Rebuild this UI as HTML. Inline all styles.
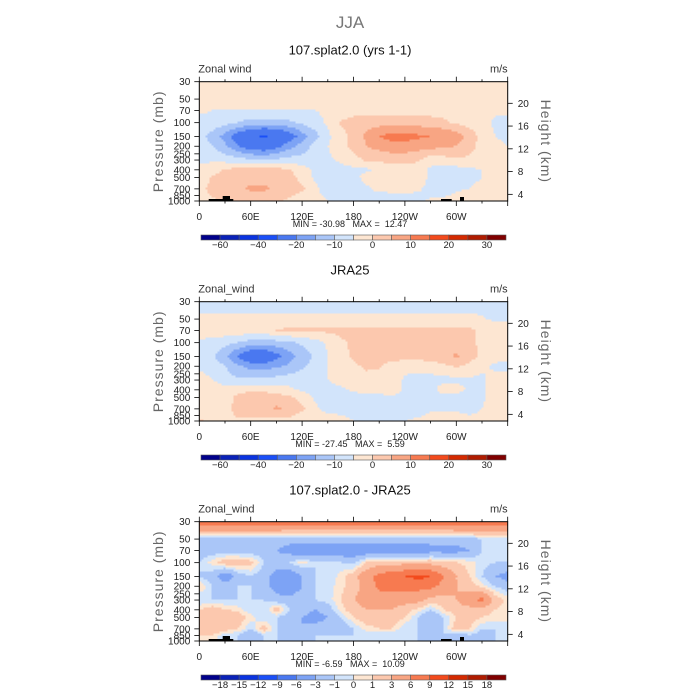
<!DOCTYPE html>
<html><head><meta charset="utf-8">
<style>
html,body{margin:0;padding:0;background:#fff;}
svg{display:block;font-family:"Liberation Sans",sans-serif;}
text{white-space:pre;}
</style></head>
<body>
<svg id="fig" width="700" height="700" viewBox="0 0 700 700">
<text x="350" y="28" text-anchor="middle" font-size="17" fill="#777">JJA</text>
</svg>
<script>
// ---- data ----
const lons = [0,15,30,45,60,75,90,105,120,135,150,165,180,195,210,225,240,255,270,285,300,315,330,345,360];
const plevs = [30,50,70,100,150,200,300,400,500,700,850,1000];
const xTickLabels = ["0","60E","120E","180","120W","60W"];
const xTickLons = [0,60,120,180,240,300];
const pTicks = [30,50,70,100,150,200,250,300,400,500,700,850,1000];
const hTicks = [4,8,12,16,20];
const levelsAbs = [-60,-50,-40,-30,-20,-15,-10,-5,0,5,10,15,20,25,30];
const levelsDiff = [-18,-15,-12,-9,-6,-3,-1,0,1,3,6,9,12,15,18];
const labelsAbs = ["-60","-40","-20","-10","0","10","20","30"];
const labelsDiff = ["-18","-15","-12","-9","-6","-3","-1","0","1","3","6","9","12","15","18"];
const palette = ["#00008b","#0a22b8","#0a33e0","#1a4ff8","#4a78f0","#7da3f5","#aac6f8","#d2e4fb","#fde6d2","#fcc8ae","#f8a583","#f77a50","#f34a1c","#d42a00","#b01c00","#800000"];

const fieldModel = [
"-2 -2 -2 -2 -2 -2 -2 -2 -2 -2 -2 -2 -2 -2 -2 -2 -2 -2 -2 -2 -2 -2 -2 -2 -2",
"-2 -2 -2 -2 -2 -2 -2 -2 -2 -2 -2 -2 -2 -2 -2 -2 -2 -2 -2 -2 -2 -2 -2 -2 -2",
"-4 -5 -5 -5 -5 -5 -5 -5 -5 -5 -4 -3 -2 -2 -2 -2 -2 -2 -2 -2 -2 -2 -3 -4 -4",
"-7 -7 -8 -10 -12 -12 -12 -11 -9 -7 -4 0.5 2 3 3 3 3 3 2 1 -1 -2 -3 -6 -7",
"-8 -12 -17 -24 -28 -31 -28 -24 -17 -12 -6 -2 2 6 10 12 12 11 10 10 8 3 -2 -5 -6",
"-7 -10 -14 -20 -24 -25 -22 -17 -13 -8 -5 -2 2 5 7 8 8 7 7 6 5 2 -2 -4 -5",
"-6 -6 -7 -8 -9 -10 -9 -8 -8 -7 -6 -4 -2 1 1 2 2 1 -3 -2 -1 -1 -2 -3 -4",
"-4 -2 0.5 1.5 2 2 1.5 0.5 -3 -6 -7 -7 -6 -6 -4 -3 -3 -3 -6 -7 -7 -6 -5 -4 -4",
"-3 0.5 2 3 3 3 3 2 -2 -6 -7 -7 -7 -3 -2 -3 -3 -2 -6 -7 -7 -6 -5 -4 -3",
"-1 1 3 4 6 6 4 3 1 -4 -7 -7 -7 -6 -3 -3 -3 -4 -7 -6 -6 -5 -4 -3 -2",
"-2 0.5 2 3 3 3 2 1 -2 -4 -6 -7 -7 -7 -7 -6 -6 -6 -6 -6 -4 -3 -2 -2 -2",
"-2 -1 0.5 1 1 1 0.5 -1 -3 -3 -5 -6 -7 -7 -7 -7 -7 -6 -4 -2 -2 -2 -2 -2 -2"];

const fieldObs = [
"-7 -7 -7 -7 -7 -7 -7 -7 -7 -7 -7 -7 -7 -7 -7 -7 -7 -7 -7 -7 -7 -7 -7 -7 -7",
"-4 -4 -4 -4 -4 -4 -4 -4 -4 -4 -4 -4 -4 -4 -4 -4 -4 -4 -4 -4 -4 -4 -4.5 -6 -6",
"-2 -2 -2 -2 -2 -2 0.5 1 1 1 1 1.5 2 2 2 2 2 2 2 2 1.5 1 -1 -2 -2",
"-6 -7 -8 -10 -12 -13 -12 -11 -9 -7 -4 -1 1 2 2 2 2 2 2 2 1.5 1 -1 -3 -4",
"-7 -9 -14 -21 -26 -27 -22 -17 -13 -9 -5 -2 1 2 2 2 2 2 2 3 6 2 -1 -3 -4",
"-6 -7 -10 -14 -17 -17 -16 -14 -11 -8 -5 -3 -1 1 0.5 -2 -3 -3 -2 -1 0.5 -1 -4 -6 -6",
"-3 -5 -8 -9 -9 -9 -8 -7 -7 -6 -5 -3 -2 -2 -2 -2 -6 -7 -7 -7 -6 -6 -6 -3 -3",
"-2 -2 -3 -1 -1 -1 -2 -4 -6 -7 -7 -6 -4 -3 -2 -2 -6 -7 -7 -2 -3 -6 -6 -2 -2",
"-2 -2 -2 1 2 2 2 1 -2 -6 -7 -7 -7 -7 -7 -6 -6 -6 -7 -7 -7 -7 -6 -2 -2",
"-2 -2 -2 2 3 3 6 3 1 -4 -7 -7 -7 -7 -7 -7 -7 -7 -7 -7 -7 -7 -5 -2 -2",
"-2 -2 -2 1 2 2 2 1 -2 -4 -4 -5 -6 -7 -7 -7 -7 -7 -3 -2 -3 -5 -4 -2 -2",
"1 -1 -2 -2 -2 -2 -2 -2 -2 -2 -3 -3 -5 -7 -7 -6 -5 -3 -2 -2 -2 -2 -2 -2 -2"];

const fieldDiff = [
"8 8 8 8 8 8 8 8 8 8 8 8 8 8 8 8 8 8 8 8 8 8 8 8 8",
"-1.5 -1.5 -1.5 -1.5 -1.5 -1.5 -1.5 -2 -2 -2 -2 -2 -2 -2 -2 -2 -2 -2 -2 -2 -1.5 -1.5 -1 -0.5 -0.5",
"-2 -2 -2 -2 -2 -2 -3 -4 -5 -5 -5 -5 -5 -5 -5 -5 -5 -5 -4 -4 -4 -3 -1 -0.5 -0.5",
"-1 0.5 2 2 1.5 -1 -2 -1 0.5 -1 -1 -1 -1.5 1 2 2 2 2 2 1.5 1 0.5 -0.5 -1 -1",
"-1 -2 -5 -2 -1 -2 -4 -5 -3 -1 -1 0.5 2 5 7 8 9 10 9 6 3 1 -1 -3 -4",
"1 -1 -2 -1 -1 -2 -4 -6 -3 -1 -0.5 0.5 2 4 7 7 7 7 7 5 3 2 0.5 -1 -2",
"-1 -1 -1 -1 -1 -1 -2 -2 -1 -1 -0.5 1 3 4 4 4 4 4 2 2 3 5 7 2 0.5",
"1 2 1 0.5 -1 -1 2 -1 -2 -3 -2 0.5 2 3 3 3 2 0.5 -1 1 2 2 2 1 0.5",
"1 2 3 2 0.5 -1 -1 -2 -3 -4 -3 -1 1 2 2 2 1 -1 -3 -1 1 2 1 0.5 0.5",
"2 3 2 1 -1 2 -1 -3 -3 -2 -2 -2 -1 0.5 1 1 -1 -1 -3 -1 2 1 -1 -1 -1",
"1 1 -1 -1 -3 -1 -1 -3 -2 -1 -1 -1 -1 -1 -1 -1 -1 -1 -2 -1 -3 -1 -2 -1 -1",
"0.5 0.5 -1 -1 -1 -1 -1 -1 -1 -1 -1 -1 -1 -1 -1 -1 -1 -1 -1 -1 -1 -1 -1 -1 -1"];

const panelTitles = ["107.splat2.0 (yrs 1-1)","JRA25","107.splat2.0 - JRA25"];
const leftLabels = ["Zonal wind","Zonal_wind","Zonal_wind"];
const minVals = ["-30.98","-27.45","-6.59"];
const maxVals = ["12.47","5.59","10.09"];

// ---- layout ----
const NS = "http://www.w3.org/2000/svg";
const svg = document.getElementById('fig');
const X0 = 199.3, X1 = 507.7, PH = 119.3;
const offsets = [81.7, 301.7, 521.7];
function el(tag, attrs, parent){ const e=document.createElementNS(NS,tag); for(const k in attrs) e.setAttribute(k,attrs[k]); (parent||svg).appendChild(e); return e; }
function xOf(lon){ return X0 + (X1-X0)*lon/360; }
function yOf(p, top){ return top + PH*Math.log(p/30)/Math.log(1000/30); }
function yOfH(h, top){ return top + 21.6 + (20-h)*5.69; }
function lonOf(x){ return (x-X0)/(X1-X0)*360; }
function pOf(y, top){ return 30*Math.exp((y-top)/PH*Math.log(1000/30)); }
function parse(f){ return f.map(r=>r.trim().split(/\s+/).map(Number)); }
function sample(grid, lon, p){
  let i = Math.min(Math.floor(lon/15), lons.length-2); let fx=(lon-lons[i])/15;
  const lp=Math.log(p); let j=0;
  while(j<plevs.length-2 && Math.log(plevs[j+1])<lp) j++;
  let fy=(lp-Math.log(plevs[j]))/(Math.log(plevs[j+1])-Math.log(plevs[j]));
  fx=Math.max(0,Math.min(1,fx)); fy=Math.max(0,Math.min(1,fy));
  const a=grid[j][i], b=grid[j][i+1], c=grid[j+1][i], d=grid[j+1][i+1];
  return (a*(1-fx)+b*fx)*(1-fy)+(c*(1-fx)+d*fx)*fy;
}
function colorIdx(v, levels){ let k=0; while(k<levels.length && v>=levels[k]) k++; return k; }

const fields = [parse(fieldModel), parse(fieldObs), parse(fieldDiff)];
const levelSets = [levelsAbs, levelsAbs, levelsDiff];

fields.forEach((grid, pi)=>{
  const top = offsets[pi];
  const g = el('g',{});
  
  
  el('text',{x:350,y:top-27,'text-anchor':'middle','font-size':13,fill:'#111'},g).textContent=panelTitles[pi];
  const t1=el('text',{x:X0-1,y:top-9,'font-size':11,fill:'#333'},g); t1.textContent=leftLabels[pi];
  
  
  const t2=el('text',{x:X1,y:top-9,'text-anchor':'end','font-size':11,fill:'#333'},g); t2.textContent="m/s";
  
  
  // contour fill
  const cg = el('g',{'shape-rendering':'crispEdges'},g);
  
  
  const step=2, levels=levelSets[pi];
  for(let y=top; y<top+PH; y+=step){
    const h=Math.min(step, top+PH-y);
    const p=pOf(y+h/2, top);
    let runStart=X0, runC=-1;
    for(let x=X0; x<X1; x+=step){
      const c=colorIdx(sample(grid, lonOf(Math.min(x+step/2,X1)), p), levels);
      if(c!==runC){
        if(runC>=0){ el('rect',{x:runStart,y:y,width:x-runStart+0.5,height:h+0.5,fill:palette[runC]},cg); }
        runStart=x; runC=c;
      }
    }
    if(runC>=0){ el('rect',{x:runStart,y:y,width:X1-runStart,height:h+0.5,fill:palette[runC]},cg); }
  }
  // topography
  if(pi!==1){
    [[208.7,199,24.6,2.5],[222.7,196,7.3,5],[441,199,10.7,2.5],[460,197,4,4.5]].forEach(r=>{
      const b=el('rect',{x:r[0],y:top+PH-(201-r[1]),width:r[2],height:(201-r[1]),fill:'#000'},g);
      
      
    });
  }
  // frame
  el('rect',{x:X0,y:top,width:X1-X0,height:PH,fill:'none',stroke:'#000','stroke-width':1},g);
  // x ticks
  for(let lon=0; lon<=360; lon+=30){
    const x=xOf(lon), len=(lon%60===0)?5:2.5;
    el('line',{x1:x,y1:top,x2:x,y2:top-len,stroke:'#000','stroke-width':0.8},g);
    el('line',{x1:x,y1:top+PH,x2:x,y2:top+PH+len,stroke:'#000','stroke-width':0.8},g);
  }
  xTickLabels.forEach((lab,k)=>{
    const t=el('text',{x:xOf(xTickLons[k]),y:top+PH+19,'text-anchor':'middle','font-size':10,fill:'#222'},g);
    t.textContent=lab;
    
    
  });
  // p ticks
  pTicks.forEach(p=>{
    const y=yOf(p,top);
    el('line',{x1:X0,y1:y,x2:X0-5,y2:y,stroke:'#000','stroke-width':0.8},g);
    const t=el('text',{x:X0-9,y:y+3.5,'text-anchor':'end','font-size':10,fill:'#222'},g);
    t.textContent=p;
    
    
  });
  // height ticks
  hTicks.forEach(hk=>{
    const y=yOfH(hk,top);
    el('line',{x1:X1,y1:y,x2:X1+5,y2:y,stroke:'#000','stroke-width':0.8},g);
    const t=el('text',{x:X1+10,y:y+3.5,'font-size':10,fill:'#222'},g);
    t.textContent=hk;
    
    
  });
  const ya=el('text',{x:0,y:0,'text-anchor':'middle','font-size':14,'letter-spacing':1,fill:'#666',transform:`translate(163,${top+PH/2}) rotate(-90)`},g);
  ya.textContent="Pressure (mb)";
  
  
  const yb=el('text',{x:0,y:0,'text-anchor':'middle','font-size':14,'letter-spacing':1,fill:'#666',transform:`translate(541,${top+PH/2}) rotate(90)`},g);
  yb.textContent="Height (km)";
  
  
  const mm=el('text',{x:350,y:top+PH+26,'text-anchor':'middle','font-size':9,fill:'#222'},g);
  mm.textContent="MIN = "+minVals[pi]+"   MAX =  "+maxVals[pi];
  
  
  // colorbar
  const cbT=top+PH+34, cbX0=201, cbW=305/16;
  const cb=el('g',{},g);
  
  
  palette.forEach((c,k)=>{ el('rect',{x:cbX0+k*cbW,y:cbT,width:cbW,height:5,fill:c,stroke:'#555','stroke-width':0.6},cb); });
  const labs = pi===2 ? labelsDiff : labelsAbs;
  labs.forEach((lab,k)=>{
    const b = pi===2 ? k+1 : 2*k+1;
    const t=el('text',{x:cbX0+b*cbW,y:cbT+13,'text-anchor':'middle','font-size':9.5,fill:'#222'},cb);
    t.textContent=lab.replace('-','\u2212');
    
    
  });
});
</script>
</body></html>
